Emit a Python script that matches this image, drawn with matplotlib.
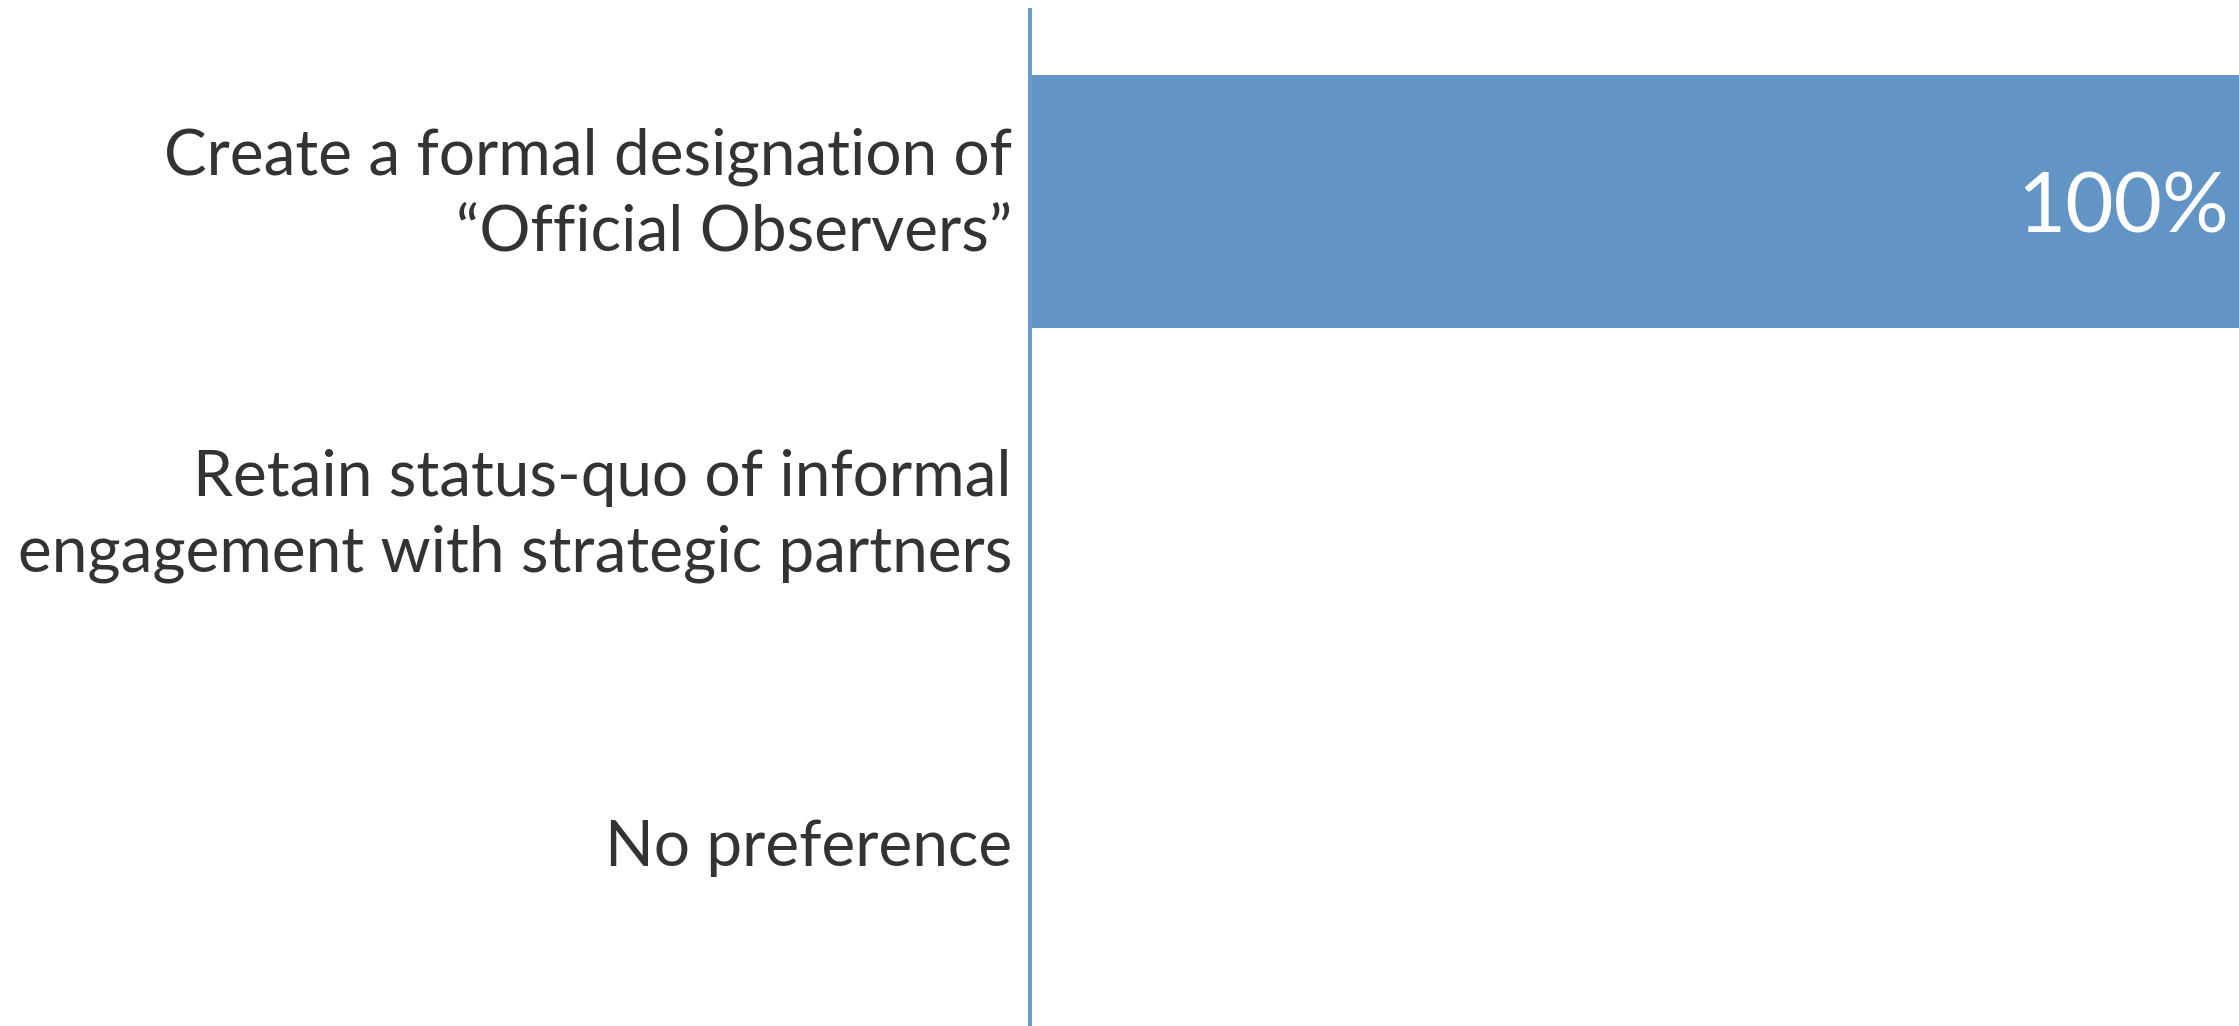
import matplotlib
matplotlib.use("Agg")
import matplotlib.pyplot as plt
from matplotlib.transforms import ScaledTranslation

categories = [
    "Create a formal designation of\n\u201cOfficial Observers\u201d",
    "Retain status-quo of informal\nengagement with strategic partners",
    "No preference",
]
values = [100, 0, 0]
value_labels = ["100%", "", ""]

W, H, DPI = 2239, 1026, 100
fig = plt.figure(figsize=(W / DPI, H / DPI), dpi=DPI)
ax = fig.add_axes([1030 / W, 0, 1 - 1030 / W, (H - 10) / H])

FONT = "Lato"
TXT = "#333333"
BAR = "#6394C6"

pos = list(range(len(categories)))
ax.barh(pos, values, height=0.79, color=BAR, edgecolor="none")
ax.set_xlim(0, 100)
ax.set_ylim(2.571, -0.597)

for s in ["top", "right", "bottom"]:
    ax.spines[s].set_visible(False)
ax.spines["left"].set_color("#6A9BD0")
ax.spines["left"].set_linewidth(2.9)
ax.set_xticks([])
ax.set_yticks(pos)
ax.set_yticklabels(categories, fontsize=46, family=FONT, color=TXT,
                   linespacing=1.37)
ax.tick_params(axis="y", length=0, pad=13)

shift = ScaledTranslation(0, 0.21, fig.dpi_scale_trans)
for t in ax.get_yticklabels():
    if "\n" in t.get_text():
        t.set_transform(t.get_transform() + shift)

for p, v, lab in zip(pos, values, value_labels):
    if lab:
        ax.text(v - 0.8, p + 0.098, lab, ha="right", va="baseline",
                color="white", fontsize=60, family=FONT)

fig.savefig("out.png", dpi=DPI)
